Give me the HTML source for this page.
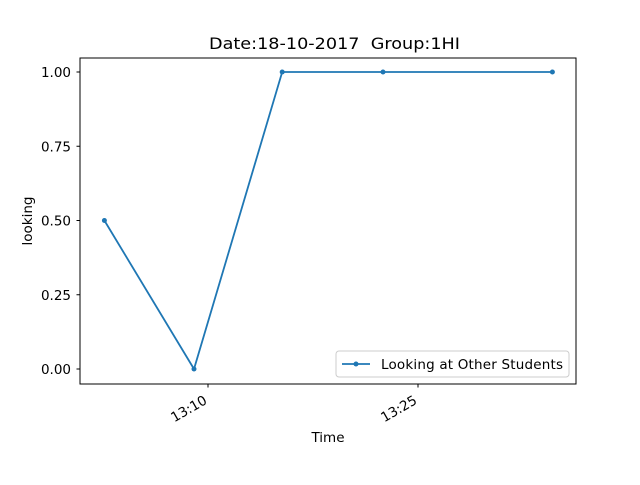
<!DOCTYPE html>
<html><head><meta charset="utf-8"><style>body{margin:0;background:#fff}svg text{font-family:"DejaVu Sans","Liberation Sans",sans-serif}</style></head>
<body>
<svg id="c" width="640" height="480" xmlns="http://www.w3.org/2000/svg">
<rect width="640" height="480" fill="#fff"/>
<text x="334.5" y="49" text-anchor="middle" font-size="16" textLength="251" lengthAdjust="spacingAndGlyphs">Date:18-10-2017&#160; Group:1HI</text>
<g id="plot"></g>
<rect x="80" y="58" width="496" height="326" fill="none" stroke="#000" stroke-width="1"/>
<text x="328" y="442" text-anchor="middle" font-size="13.5">Time</text>
<text transform="translate(32,221) rotate(-90)" text-anchor="middle" font-size="13.5">looking</text>
<g>
<rect x="336" y="351" width="233" height="26" rx="3" fill="#fff" fill-opacity="0.8" stroke="#ccc"/>
<line x1="342" y1="364" x2="370" y2="364" stroke="#1f77b4" stroke-width="1.8"/>
<circle cx="356" cy="364" r="2.5" fill="#1f77b4"/>
<text x="381" y="369" font-size="13.5" textLength="182">Looking at Other Students</text>
</g>
</svg>
<script>
const times=[-7.4,-1,5.3,12.5,24.6]; // minutes relative to 13:10
const values=[0.5,0,1,1,1];
const yTicks=[0,0.25,0.5,0.75,1];
const yTickLabels=["0.00","0.25","0.50","0.75","1.00"];
const xTicks=[0,15];
const xTickLabels=["13:10","13:25"];
const NS="http://www.w3.org/2000/svg";
const g=document.getElementById('plot');
const xs=m=>208+m*14;
const ys=v=>369-v*297;
function mk(t,a){const e=document.createElementNS(NS,t);for(const k in a)e.setAttribute(k,a[k]);g.appendChild(e);return e;}
yTicks.forEach((v,i)=>{
 const t=mk('line',{x1:76.5,x2:80,y1:ys(v),y2:ys(v),stroke:'#000'});
 
 
 const l=mk('text',{x:71,y:ys(v)+5,'text-anchor':'end','font-size':13.5});
 
 
 l.textContent=yTickLabels[i];
});
xTicks.forEach((m,i)=>{
 const x=xs(m);
 const t=mk('line',{x1:x,x2:x,y1:384,y2:387.5,stroke:'#000'});
 
 
 const l=mk('text',{x:0,y:0,'text-anchor':'end','font-size':13.5,transform:`translate(${x},${403}) rotate(-30)`});
 
 
 l.textContent=xTickLabels[i];
});
const line=mk('polyline',{points:times.map((t,i)=>xs(t)+','+ys(values[i])).join(' '),fill:'none',stroke:'#1f77b4','stroke-width':1.8});


times.forEach((t,i)=>{
 const c=mk('circle',{cx:xs(t),cy:ys(values[i]),r:2.5,fill:'#1f77b4'});
 
 
});
</script>
</body></html>
